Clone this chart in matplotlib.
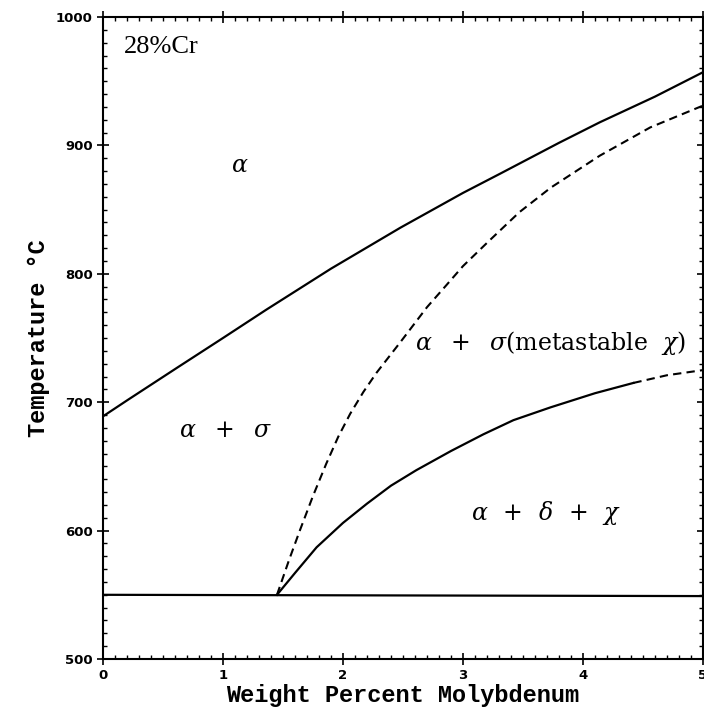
import matplotlib.pyplot as plt
from matplotlib.ticker import MultipleLocator

# phase boundaries (wt% Mo, deg C)
upper_x = [0.0, 0.21, 0.62, 1.0, 1.36, 1.90, 2.48, 3.0, 3.31, 3.80, 4.14, 4.60, 5.0]
upper_y = [689, 702, 727, 750, 772, 804, 836, 863, 878, 902, 918, 938, 957]

sigma_x = [1.45, 1.55, 1.64, 1.75, 1.86, 1.96, 2.06, 2.17, 2.28, 2.48, 2.70, 2.86, 3.0,
           3.21, 3.47, 3.73, 4.14, 4.56, 5.0]
sigma_y = [550, 577, 600, 627, 652, 673, 691, 708, 723, 747, 774, 791, 806,
           825, 848, 867, 892, 914, 931]

chi_x = [1.45, 1.60, 1.78, 2.0, 2.20, 2.40, 2.61, 2.90, 3.17, 3.42, 3.73, 4.10, 4.42]
chi_y = [550, 567, 587, 606, 621, 635, 647, 662, 675, 686, 696, 707, 715]

chi_ext_x = [4.42, 4.70, 5.0]
chi_ext_y = [715, 721, 725]

base_x = [0.0, 5.0]
base_y = [550, 549]

mono = ['Liberation Mono', 'DejaVu Sans Mono']
plt.rcParams['mathtext.fontset'] = 'dejavuserif'

fig = plt.figure(figsize=(7.04, 7.2), dpi=100)
ax = fig.add_axes([103 / 704, 61 / 720, 600 / 704, 642 / 720])

ax.plot(upper_x, upper_y, color='black', lw=1.6)
ax.plot(sigma_x, sigma_y, color='black', lw=1.5, ls=(0, (4, 2.5)))
ax.plot(chi_x, chi_y, color='black', lw=1.6)
ax.plot(chi_ext_x, chi_ext_y, color='black', lw=1.5, ls=(0, (4, 2.5)))
ax.plot(base_x, base_y, color='black', lw=1.6)

ax.set_xlim(0, 5)
ax.set_ylim(500, 1000)
ax.xaxis.set_major_locator(MultipleLocator(1))
ax.xaxis.set_minor_locator(MultipleLocator(0.1))
ax.yaxis.set_major_locator(MultipleLocator(100))
ax.yaxis.set_minor_locator(MultipleLocator(10))
ax.tick_params(which='major', direction='inout', length=8, width=1.2,
               labelsize=9.5)
ax.tick_params(which='minor', direction='in', length=3, width=1,
               top=True, right=True)
ax.tick_params(which='major', axis='x', top=True)
ax.tick_params(which='major', axis='y', right=True)
for lab in ax.get_xticklabels() + ax.get_yticklabels():
    lab.set_fontweight('bold')
for sp in ax.spines.values():
    sp.set_linewidth(1.5)

ax.set_xlabel('Weight Percent Molybdenum', family=mono, fontsize=17,
              fontweight='bold', labelpad=1)
ax.set_ylabel('Temperature °C', family=mono, fontsize=17,
              fontweight='bold', labelpad=4)

ax.text(0.17, 977, '28%Cr', family=['Liberation Serif'], fontsize=19,
        ha='left', va='center')
ax.text(1.14, 885, r'$\alpha$', fontsize=17, ha='center', va='center')
ax.text(1.02, 678, r'$\alpha\ \ +\ \ \sigma$', fontsize=17,
        ha='center', va='center')
ax.text(2.6, 746, r'$\alpha\ \ +\ \ \sigma$(metastable  $\chi$)',
        family=['DejaVu Serif'], fontsize=17, ha='left', va='center')
ax.text(3.69, 614, r'$\alpha\ \,+\ \,\delta\ \,+\ \,\chi$', fontsize=17,
        ha='center', va='center')

fig.savefig('out.png', dpi=100)
